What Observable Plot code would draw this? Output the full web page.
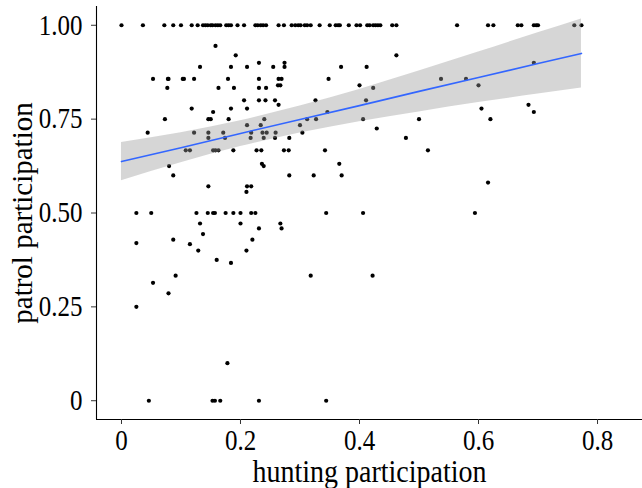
<!DOCTYPE html>
<html>
<head>
<meta charset="utf-8">
<script src="https://cdn.jsdelivr.net/npm/d3@7"></script>
<script src="https://cdn.jsdelivr.net/npm/@observablehq/plot@0.6"></script>
<style>
  html, body { margin: 0; padding: 0; background: #fff; }
  #chart svg { display: block; }
</style>
</head>
<body>
<div id="chart"></div>
<script>
// patrol participation levels and the hunting participation values observed at each level
const patrolLevels = [1, 0.945, 0.92, 0.9, 0.889, 0.857, 0.84, 0.833, 0.8, 0.788, 0.778, 0.769, 0.75, 0.734, 0.725, 0.714, 0.7, 0.667, 0.631, 0.625, 0.6, 0.581, 0.571, 0.556, 0.5, 0.472, 0.459, 0.444, 0.429, 0.42, 0.417, 0.4, 0.375, 0.367, 0.333, 0.314, 0.286, 0.25, 0.1, 0];
const huntingByLevel = [
  [0, 0.036, 0.072, 0.087, 0.1, 0.118, 0.128, 0.137, 0.141, 0.145, 0.15, 0.153, 0.158, 0.162, 0.166, 0.176, 0.18, 0.184, 0.195, 0.206, 0.225, 0.229, 0.234, 0.238, 0.243, 0.264, 0.273, 0.286, 0.292, 0.297, 0.301, 0.308, 0.312, 0.318, 0.333, 0.35, 0.36, 0.364, 0.367, 0.382, 0.395, 0.401, 0.413, 0.417, 0.423, 0.427, 0.431, 0.435, 0.455, 0.462, 0.564, 0.616, 0.625, 0.666, 0.672, 0.693, 0.697, 0.7, 0.761, 0.773],
  [0.158],
  [0.192, 0.462],
  [0.231, 0.274, 0.693],
  [0.132, 0.184, 0.211, 0.255, 0.274, 0.369, 0.412],
  [0.053, 0.078, 0.079, 0.103, 0.105, 0.122, 0.179, 0.231, 0.264, 0.269, 0.348, 0.537, 0.579],
  [0.263, 0.267, 0.4, 0.6],
  [0.077, 0.163, 0.189, 0.231, 0.243, 0.423],
  [0.206, 0.231, 0.242, 0.258, 0.326, 0.411],
  [0.264, 0.684],
  [0.118, 0.184, 0.211, 0.605],
  [0.154, 0.346, 0.693],
  [0.073, 0.146, 0.15, 0.18, 0.24, 0.312, 0.327, 0.406, 0.5, 0.62],
  [0.211, 0.234, 0.3],
  [0.429],
  [0.044, 0.122, 0.146, 0.171, 0.218, 0.237, 0.244, 0.259, 0.304],
  [0.146, 0.174, 0.217, 0.239, 0.258, 0.282, 0.478],
  [0.108, 0.115, 0.154, 0.158, 0.163, 0.188, 0.227, 0.235, 0.273, 0.281, 0.342, 0.515],
  [0.366, 0.236],
  [0.08, 0.239],
  [0.087, 0.282, 0.323, 0.37],
  [0.616],
  [0.146, 0.211, 0.218],
  [0.21],
  [0.025, 0.05, 0.126, 0.145, 0.154, 0.157, 0.175, 0.188, 0.2, 0.218, 0.225, 0.344, 0.406, 0.594],
  [0.132, 0.2, 0.267],
  [0.231, 0.269],
  [0.137],
  [0.087, 0.22],
  [0.025],
  [0.115],
  [0.129, 0.21],
  [0.16],
  [0.184],
  [0.091, 0.318, 0.422],
  [0.053],
  [0.079],
  [0.025],
  [0.178],
  [0.046, 0.153, 0.157, 0.166, 0.231, 0.344]
];

// fitted linear trend and its 95% confidence band
const fitHunting = [0, 0.1, 0.2, 0.3, 0.4, 0.5, 0.6, 0.7, 0.773];
const fitPatrol  = [0.637, 0.674, 0.712, 0.749, 0.786, 0.824, 0.861, 0.898, 0.925];
const fitLow     = [0.586, 0.634, 0.677, 0.713, 0.743, 0.769, 0.794, 0.817, 0.833];
const fitHigh    = [0.688, 0.714, 0.746, 0.785, 0.829, 0.878, 0.929, 0.980, 1.017];

const xTicks = [0, 0.2, 0.4, 0.6, 0.8];
const xTickLabels = ["0", "0.2", "0.4", "0.6", "0.8"];
const yTicks = [0, 0.25, 0.5, 0.75, 1];
const yTickLabels = ["0", "0.25", "0.50", "0.75", "1.00"];
const xTitle = "hunting participation";
const yTitle = "patrol participation";

const points = patrolLevels.flatMap((p, i) => huntingByLevel[i].map(h => ({hunting: h, patrol: p})));
const fit = fitHunting.map((h, i) => ({hunting: h, patrol: fitPatrol[i], low: fitLow[i], high: fitHigh[i]}));

const xDomain = [-0.042, 0.8756];
const yDomain = [-0.05, 1.05];
const font = "'Liberation Serif', 'Times New Roman', serif";

const chart = Plot.plot({
  width: 642,
  height: 488,
  marginLeft: 96,
  marginRight: 0,
  marginTop: 6,
  marginBottom: 69,
  style: {fontFamily: font, fontSize: "25px", color: "#000", background: "#fff"},
  x: {domain: xDomain},
  y: {domain: yDomain},
  marks: [
    Plot.dot(points, {x: "hunting", y: "patrol", r: 2.1, fill: "#000", stroke: "none"}),
    Plot.areaY(fit, {x: "hunting", y1: "low", y2: "high", fill: "#999999", fillOpacity: 0.4, curve: "monotone-x"}),
    Plot.line(fit, {x: "hunting", y: "patrol", stroke: "#3366FF", strokeWidth: 1.6}),
    Plot.ruleX([xDomain[0]], {stroke: "#000", strokeWidth: 1.1}),
    Plot.ruleY([yDomain[0]], {stroke: "#000", strokeWidth: 1.1}),
    Plot.axisX({ticks: xTicks, tickFormat: d => xTickLabels[xTicks.indexOf(d)], tickSize: 5, tickPadding: 6, stroke: "#333", fill: "#000", label: null, fontSize: 25}),
    Plot.axisY({ticks: yTicks, tickFormat: d => yTickLabels[yTicks.indexOf(d)], tickSize: 5, tickPadding: 9, stroke: "#333", fill: "#000", label: null, fontSize: 25}),
    Plot.text([xTitle], {text: d => d, frameAnchor: "bottom", dy: 52, fontSize: 28, fill: "#000", lineAnchor: "middle"}),
    Plot.text([yTitle], {text: d => d, frameAnchor: "left", dx: -74, rotate: -90, textAnchor: "middle", fontSize: 29, fill: "#000", lineAnchor: "middle"})
  ]
});
document.getElementById("chart").appendChild(chart);

// the reference type is slightly taller than wide: stretch the horizontal texts vertically about their own centre
const k = 1.15;
chart.querySelectorAll("text").forEach(t => {
  if (t.textContent === yTitle) return;
  const bb = t.getBBox();
  const cx = bb.x + bb.width / 2, cy = bb.y + bb.height / 2;
  const prev = t.getAttribute("transform") || "";
  t.setAttribute("transform", `${prev} translate(${cx},${cy}) scale(1,${k}) translate(${-cx},${-cy})`.trim());
});
</script>
</body>
</html>
